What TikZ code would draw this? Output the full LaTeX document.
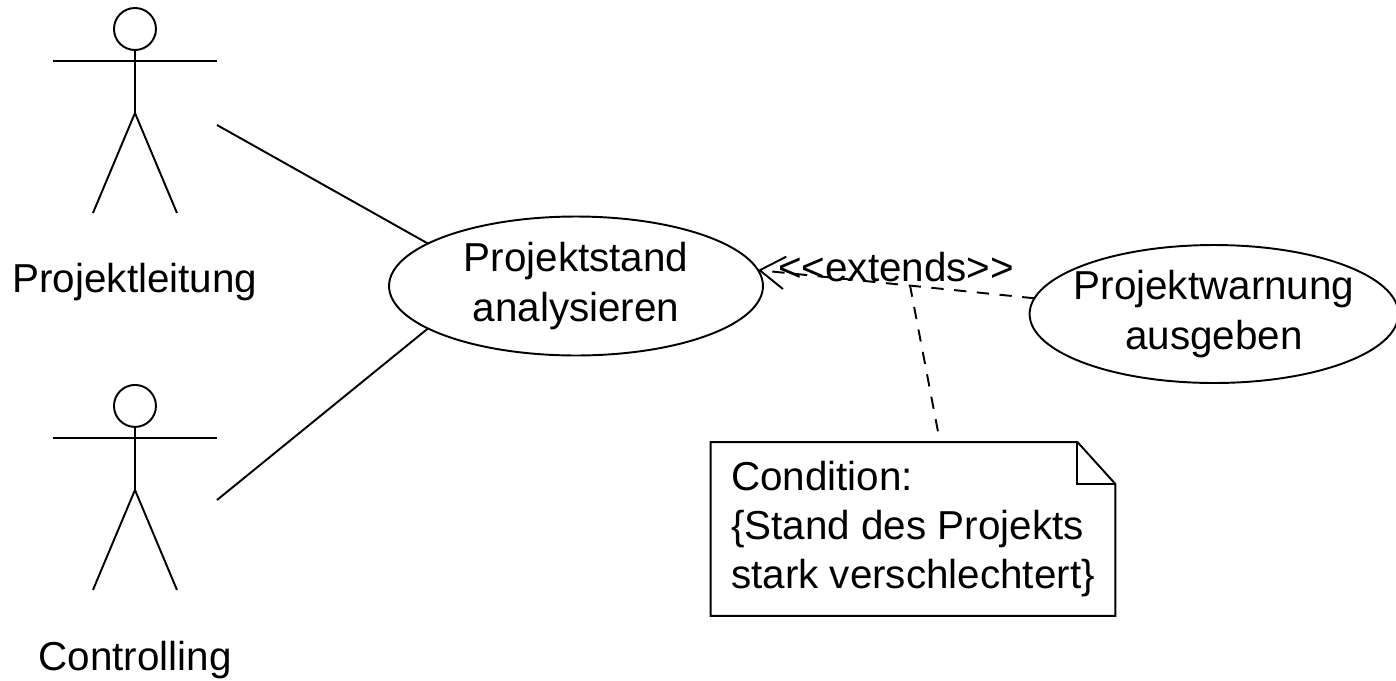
\documentclass[tikz,border=0pt]{standalone}
\usepackage{fontspec}
\setmainfont{Liberation Sans}
\usetikzlibrary{arrows.meta,shapes.geometric}
\usetikzlibrary{positioning}
\newcommand{\stickman}{\draw (0,-21) circle[radius=0.42cm];
					\draw (0,0) -- (0,63);
					\draw (-82,11) -- (82,11);
					\draw (-42,163) -- (0,63) -- (42,163);}
\tikzset{
	usecase/.style = {draw, ellipse, minimum width=7.48cm, minimum height=2.78cm, inner sep=0pt, outer sep=0pt, align=center},
	actorname/.style = {inner sep=0pt},
	notebox/.style = {minimum width=8.06cm, minimum height=3.44cm, inner sep=0.3cm, align=left},
	assoc/.style = {line width=1.1pt},
	extend/.style = {line width=1.1pt, dash pattern=on 7pt off 6pt}
}

\begin{document}
\begin{tikzpicture}[x=0.02cm, y=-0.02cm, line width=1.1pt, font=\fontsize{23}{28}\selectfont]
					\useasboundingbox (0,0) rectangle (1396,680);

					\begin{scope}[xshift = 2.7cm, yshift = -1cm]
						\stickman
					\end{scope}
					\node[actorname] (leitung) at (135,282) {Projektleitung};
					\coordinate (pl) at (217,125);

					\begin{scope}[xshift = 2.7cm, yshift = -8.54cm]
						\stickman
					\end{scope}
					\node[actorname] (controlling) at (135,660) {Controlling};
					\coordinate (co) at (217,500);

					\node[usecase] (stand) at (576,286) {Projektstand\\analysieren};
					\node[usecase, minimum width=7.32cm, minimum height=2.76cm, inner xsep=-0.2cm] (warnung) at (1214,314) {Projektwarnung\\ausgeben};

					\draw[assoc] (pl) -- (stand.164);
					\draw[assoc] (co) -- (stand.196);

					\draw[extend, -{Straight Barb[length=0.5cm, width=0.65cm]}] (warnung.175) -- coordinate[pos=0.45] (ext) node[pos=0.5, anchor=south, inner sep=1pt] {<{}<extends>{}>} (stand.5);

					% note with folded corner
					\node[notebox] (cond) at (913,529) {Condition:\\\{Stand des Projekts\\stark verschlechtert\}};
					\draw (cond.south west) -- (cond.north west) -- ([xshift=-0.76cm]cond.north east) -- ([yshift=-0.84cm]cond.north east) -- (cond.south east) -- cycle;
					\draw ([xshift=-0.76cm]cond.north east) |- ([yshift=-0.84cm]cond.north east);

					\draw[extend, shorten <=0.22cm] ([xshift=0.54cm]cond.north) -- (ext);

\end{tikzpicture}
\end{document}
